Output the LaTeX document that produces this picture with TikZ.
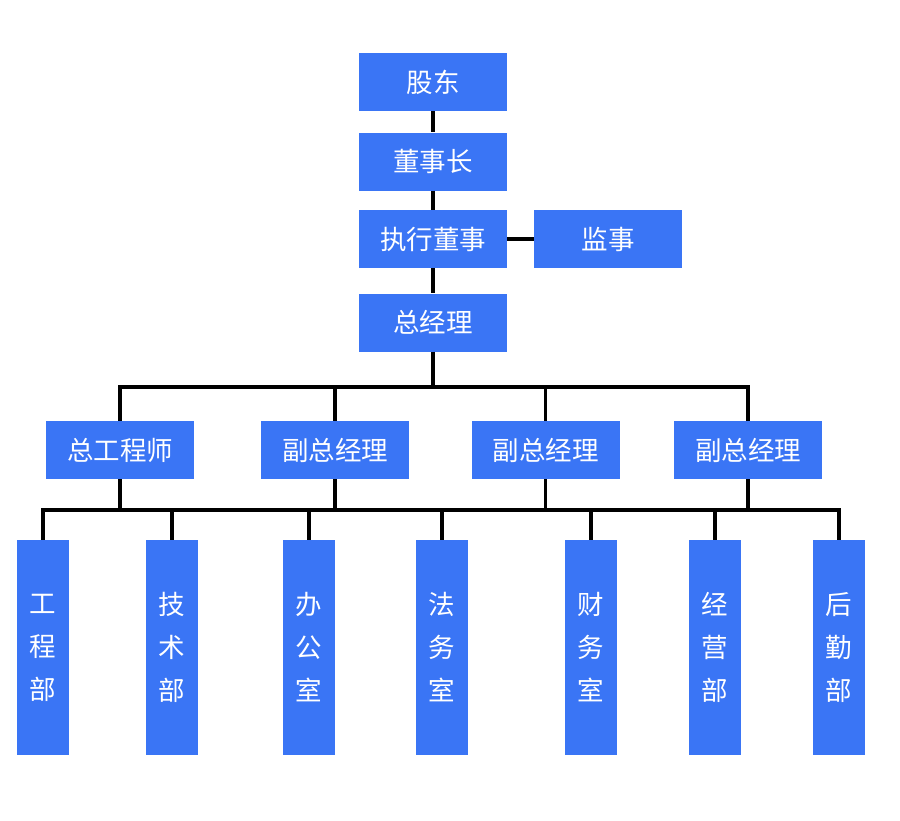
\documentclass[tikz,border=0pt]{standalone}
\usepackage{fontspec}
\setmainfont{Noto Sans CJK SC}
\definecolor{boxblue}{HTML}{3A75F5}
\begin{document}
\begin{tikzpicture}[x=1pt,y=-1pt,
  box/.style={fill=boxblue,text=white,inner sep=0pt,minimum width=148pt,minimum height=58pt,font=\fontsize{26.5}{30}\selectfont},
  vbox/.style={fill=boxblue,text=white,inner sep=0pt,minimum width=52pt,minimum height=215pt,align=center,font=\fontsize{26.5}{43}\selectfont},
  conn/.style={line width=3.4pt,black,line join=miter}]
\useasboundingbox (0,0) rectangle (900,820);
% top chain
\node[box] (gd) at (433,82) {股东};
\node[box] (dsz) at (433,161.5) {董事长};
\node[box] (zxds) at (433,239) {执行董事};
\node[box] (js) at (608,239) {监事};
\node[box] (zjl) at (433,322.5) {总经理};
% second row
\node[box] (zgcs) at (120,450) {总工程师};
\node[box] (fz1) at (335,450) {副总经理};
\node[box] (fz2) at (545.5,450) {副总经理};
\node[box] (fz3) at (748,450) {副总经理};
% bottom row
\node[vbox] (b1) at (43,647.5) {工\\程\\部};
\node[vbox] (b2) at (172,647.5) {技\\术\\部};
\node[vbox] (b3) at (309,647.5) {办\\公\\室};
\node[vbox] (b4) at (442,647.5) {法\\务\\室};
\node[vbox] (b5) at (591,647.5) {财\\务\\室};
\node[vbox] (b6) at (715,647.5) {经\\营\\部};
\node[vbox] (b7) at (839,647.5) {后\\勤\\部};
% connectors
\coordinate (bus1) at (433,387);
\coordinate (bus2) at (443,510);
\draw[conn] (gd) -- (dsz);
\draw[conn] (dsz) -- (zxds);
\draw[conn] (zxds) -- (js);
\draw[conn] (zxds) -- (zjl);
\draw[conn] (zjl.south) -- (bus1);
\draw[conn] (zgcs.north) |- (bus1) -| (fz3.north);
\draw[conn] (fz1.north) -- (fz1.north |- bus1);
\draw[conn] (fz2.north) -- (fz2.north |- bus1);
\draw[conn] (b1.north) |- (bus2) -| (b7.north);
\foreach \n in {b2,b3,b4,b5,b6} \draw[conn] (\n.north) -- (\n.north |- bus2);
\foreach \n in {zgcs,fz1,fz2,fz3} \draw[conn] (\n.south) -- (\n.south |- bus2);
\end{tikzpicture}
\end{document}
